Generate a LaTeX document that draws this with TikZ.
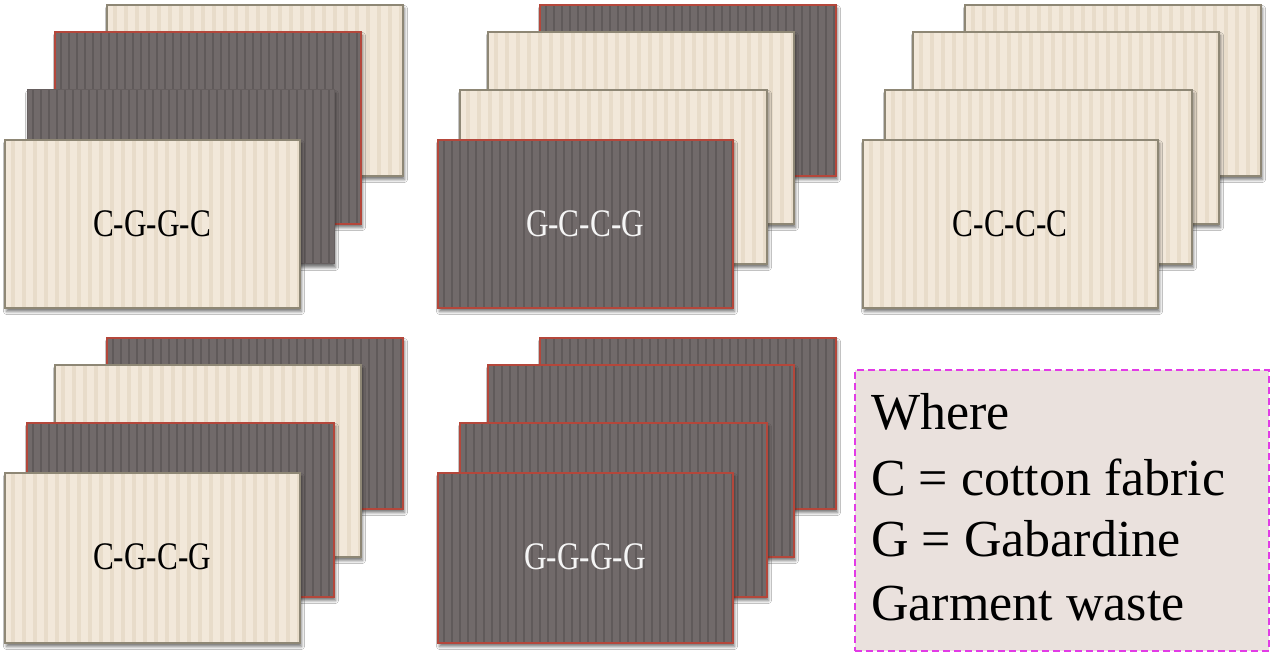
\documentclass[tikz,border=0pt]{standalone}
\usepackage{fontspec}
\setmainfont{Liberation Serif}
\usepackage{graphicx}
\usetikzlibrary{shadows.blur}
\definecolor{cream}{HTML}{F2E8DA}
\definecolor{creamband}{HTML}{E8DCCA}
\definecolor{creamedge}{HTML}{8E8775}
\definecolor{darkfab}{HTML}{716A6A}
\definecolor{darkband}{HTML}{605A5A}
\definecolor{darkedge}{HTML}{B4473B}
\definecolor{legendfill}{HTML}{EAE1DD}
\definecolor{legendedge}{HTML}{E23BE6}
\tikzset{
  cardshadow/.style={blur shadow={shadow xshift=1.5pt,shadow yshift=-3.5pt,shadow blur radius=3pt,shadow opacity=55}},
  cardlabel/.style={font=\fontsize{39}{40}\selectfont, inner sep=0pt},
  legendbox/.style={draw=legendedge, fill=legendfill, line width=2pt, dash pattern=on 7pt off 4pt, inner sep=0pt},
  legendtext/.style={font=\fontsize{52}{60}\selectfont, inner sep=0pt, anchor=base west, text=black}
}
% cream (cotton) card
\newcommand\fabC[4]{%
  \fill[cream, cardshadow] (#1,#2) rectangle (#3,#4);
  \begin{scope}
    \clip (#1,#2) rectangle (#3,#4);
    \foreach \s in {0,11,...,308} {\fill[creamband] (#1+\s+6,#2) rectangle (#1+\s+10,#4);}
  \end{scope}
  \draw[creamedge, line width=1.8pt] (#1,#2) rectangle (#3,#4);
}
% dark (gabardine) card, red edge
\newcommand\fabG[4]{%
  \fill[darkfab, cardshadow] (#1,#2) rectangle (#3,#4);
  \begin{scope}
    \clip (#1,#2) rectangle (#3,#4);
    \foreach \s in {0,8,...,308} {\fill[darkband] (#1+\s+4.5,#2) rectangle (#1+\s+7,#4);}
  \end{scope}
  \draw[darkedge, line width=1.6pt] (#1,#2) rectangle (#3,#4);
}
% dark card, plain edge
\newcommand\fabGplain[4]{%
  \fill[darkfab, cardshadow] (#1,#2) rectangle (#3,#4);
  \begin{scope}
    \clip (#1,#2) rectangle (#3,#4);
    \foreach \s in {0,8,...,308} {\fill[darkband] (#1+\s+4.5,#2) rectangle (#1+\s+7,#4);}
  \end{scope}
  \draw[darkfab!90!black, line width=1pt] (#1,#2) rectangle (#3,#4);
}
\begin{document}
\begin{tikzpicture}[x=1pt,y=-1pt]
\useasboundingbox (0,0) rectangle (1270,652);
\fill[white] (0,0) rectangle (1270,652);

% group 1: C-G-G-C
\begin{scope}[shift={(0,0)}]
  \fabC{107}{5}{403}{176}
  \fabG{55}{32}{361}{224}
  \fabGplain{27}{90}{334}{264}
  \fabC{5}{140}{300}{308}
  \node[cardlabel, text=black] (l1) at (152,224) {\scalebox{0.8}[1]{C-G-G-C}};
\end{scope}

% group 2: G-C-C-G
\begin{scope}[shift={(433,0)}]
  \fabG{107}{5}{403}{176}
  \fabC{55}{32}{361}{224}
  \fabC{27}{90}{334}{264}
  \fabG{5}{140}{300}{308}
  \node[cardlabel, text=white!92!gray] (l2) at (152,224) {\scalebox{0.8}[1]{G-C-C-G}};
\end{scope}

% group 3: C-C-C-C
\begin{scope}[shift={(858,0)}]
  \fabC{107}{5}{403}{176}
  \fabC{55}{32}{361}{224}
  \fabC{27}{90}{334}{264}
  \fabC{5}{140}{300}{308}
  \node[cardlabel, text=black] (l3) at (152,224) {\scalebox{0.8}[1]{C-C-C-C}};
\end{scope}

% group 4: C-G-C-G
\begin{scope}[shift={(0,333)}]
  \fabG{107}{5}{403}{176}
  \fabC{55}{32}{361}{224}
  \fabG{27}{90}{334}{264}
  \fabC{5}{140}{300}{310}
  \node[cardlabel, text=black] (l4) at (152,224) {\scalebox{0.8}[1]{C-G-C-G}};
\end{scope}

% group 5: G-G-G-G
\begin{scope}[shift={(433,333)}]
  \fabG{107}{5}{403}{176}
  \fabG{55}{32}{361}{224}
  \fabG{27}{90}{334}{264}
  \fabG{5}{140}{300}{310}
  \node[cardlabel, text=white!92!gray] (l5) at (152,224) {\scalebox{0.8}[1]{G-G-G-G}};
\end{scope}

% legend
\node[legendbox, anchor=north west, minimum width=414pt, minimum height=281pt] (legend) at (854,369) {};
\node[legendtext] (w1) at (871,430) {Where};
\node[legendtext] (w2) at (871,495) {C = cotton fabric};
\node[legendtext] (w3) at (871,556) {G = Gabardine};
\node[legendtext] (w4) at (871,620) {Garment waste};
\end{tikzpicture}
\end{document}
